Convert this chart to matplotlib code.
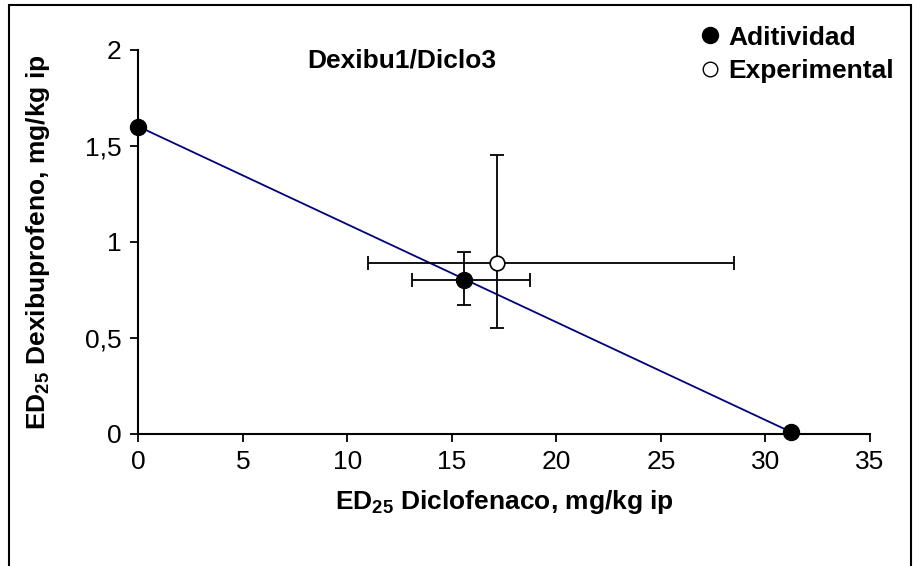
import matplotlib
matplotlib.use("Agg")
import matplotlib.pyplot as plt
from matplotlib.lines import Line2D
from matplotlib.patches import Rectangle

plt.rcParams['font.family'] = ['Liberation Sans', 'DejaVu Sans']
plt.rcParams['mathtext.fontset'] = 'custom'
plt.rcParams['mathtext.rm'] = 'Liberation Sans'
plt.rcParams['mathtext.bf'] = 'Liberation Sans:bold'

# Data
add_x = [0.0, 15.6, 31.2]
add_y = [1.6, 0.80, 0.01]
add_mid_xerr_lo, add_mid_xerr_hi = 13.1, 18.75
add_mid_yerr_lo, add_mid_yerr_hi = 0.67, 0.945
exp_x = [17.15]
exp_y = [0.89]
exp_xerr_lo, exp_xerr_hi = 11.0, 28.5
exp_yerr_lo, exp_yerr_hi = 0.552, 1.45
xticks = [0, 5, 10, 15, 20, 25, 30, 35]
yticks = [0, 0.5, 1, 1.5, 2]
ytick_labels = ["0", "0,5", "1", "1,5", "2"]

FS = 19

fig = plt.figure(figsize=(9.13, 5.66), dpi=100)
ax = fig.add_axes([0.1515, 0.2337, 0.9529 - 0.1515, 0.9122 - 0.2337])

# figure frame
fig.patches.append(Rectangle((9/913, -0.05), (911-9)/913, 1.05 - 5/566,
                             transform=fig.transFigure, fill=False,
                             edgecolor='black', linewidth=1.5))

# additivity line
ax.plot([add_x[0], add_x[2]], [add_y[0], add_y[2]], color='#000080', lw=1.3, zorder=2)

# error bars
ax.errorbar([add_x[1]], [add_y[1]],
            xerr=[[add_x[1] - add_mid_xerr_lo], [add_mid_xerr_hi - add_x[1]]],
            yerr=[[add_y[1] - add_mid_yerr_lo], [add_mid_yerr_hi - add_y[1]]],
            fmt='none', ecolor='black', elinewidth=1.3, capsize=5, capthick=1.3, zorder=3)
ax.errorbar(exp_x, exp_y,
            xerr=[[exp_x[0] - exp_xerr_lo], [exp_xerr_hi - exp_x[0]]],
            yerr=[[exp_y[0] - exp_yerr_lo], [exp_yerr_hi - exp_y[0]]],
            fmt='none', ecolor='black', elinewidth=1.3, capsize=5, capthick=1.3, zorder=3)

ax.plot(add_x, add_y, 'o', color='black', markersize=11.5, zorder=4, clip_on=False)
ax.plot(exp_x, exp_y, 'o', markerfacecolor='white', markeredgecolor='black',
        markeredgewidth=1.2, markersize=10.5, zorder=4, clip_on=False)

ax.set_xlim(0, 35)
ax.set_ylim(0, 2)
ax.set_xticks(xticks)
ax.set_xticklabels([str(t) for t in xticks])
ax.set_yticks(yticks)
ax.set_yticklabels(ytick_labels)
ax.tick_params(direction='out', length=6, width=1.3, labelsize=FS, pad=6)
for s in ['top', 'right']:
    ax.spines[s].set_visible(False)
for s in ['left', 'bottom']:
    ax.spines[s].set_linewidth(1.5)

ax.set_xlabel("ED$_{\\mathbf{25}}$ Diclofenaco, mg/kg ip", fontsize=FS, fontweight='bold', labelpad=10)
ax.set_ylabel("ED$_{\\mathbf{25}}$ Dexibuprofeno, mg/kg ip", fontsize=FS, fontweight='bold', labelpad=24)

ax.text(0.36, 0.973, "Dexibu1/Diclo3", transform=ax.transAxes, fontsize=FS,
        fontweight='bold', ha='center', va='center')

handles = [Line2D([], [], marker='o', ls='none', color='black', markersize=11.5),
           Line2D([], [], marker='o', ls='none', markerfacecolor='white',
                  markeredgecolor='black', markersize=10.5)]
leg = ax.legend(handles, ["Aditividad", "Experimental"], loc='upper left',
                bbox_to_anchor=(0.745, 1.09), frameon=False,
                prop={'size': FS, 'weight': 'bold'}, handletextpad=0.1,
                handlelength=1.2, labelspacing=0.35, borderaxespad=0)

fig.savefig("out.png", dpi=100)
